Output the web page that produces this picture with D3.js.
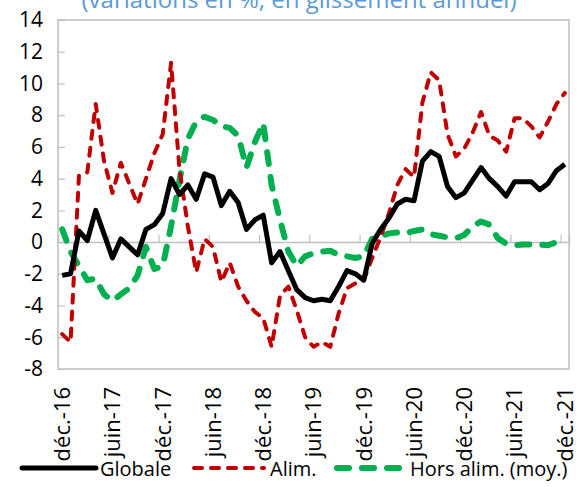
<!DOCTYPE html>
<html><head><meta charset="utf-8">
<script src="https://cdn.jsdelivr.net/npm/d3@7"></script>
<style>
html,body{margin:0;padding:0;background:#fff;}
svg{display:block;}
text{font-family:"Open Sans","Noto Sans",sans-serif;}
</style></head>
<body><svg id="c" width="579" height="487"></svg>
<script>
const monthNames = ["janv.","févr.","mars","avr.","mai","juin","juil.","août","sept.","oct.","nov.","déc."];
const categories = [];
for (let k = 0; k <= 60; k++) { const m = (11 + k) % 12, yr = 16 + Math.floor((11 + k) / 12); categories.push(monthNames[m] + "-" + yr); }
const tickLabels = ["déc.-16","juin-17","déc.-17","juin-18","déc.-18","juin-19","déc.-19","juin-20","déc.-20","juin-21","déc.-21"];
const yTicks = [-8,-6,-4,-2,0,2,4,6,8,10,12,14];
const globale = [-2.1,-2.0,0.7,0.1,2.0,0.5,-1.0,0.2,-0.3,-0.8,
  0.8,1.1,1.8,4.0,3.0,3.6,2.7,4.3,4.1,2.3,
  3.2,2.5,0.8,1.4,1.7,-1.3,-0.6,-1.8,-3.0,-3.5,
  -3.7,-3.6,-3.7,-2.8,-1.8,-2.0,-2.4,-0.1,0.8,1.5,
  2.4,2.7,2.6,5.1,5.7,5.4,3.5,2.8,3.1,3.9,
  4.7,4.0,3.5,2.9,3.8,3.8,3.8,3.3,3.7,4.5,4.9];
const alim = [-5.8,-6.3,4.2,4.4,8.7,5.1,3.1,5.0,3.7,2.4,
  4.0,5.6,6.8,11.3,4.6,1.0,-1.9,0.2,-0.3,-2.5,
  -1.3,-2.8,-3.7,-4.4,-4.8,-6.6,-3.4,-2.8,-4.3,-6.0,
  -6.6,-6.3,-6.6,-4.5,-2.9,-2.6,-2.4,-1.0,0.3,1.8,
  3.6,4.6,4.1,8.8,10.7,10.2,6.8,5.4,5.9,6.9,
  8.2,6.7,6.4,5.7,7.8,7.8,7.3,6.6,7.6,8.7,9.4];
const horsAlim = [0.8,-0.6,-1.5,-2.4,-2.3,-3.3,-3.7,-3.3,-2.9,-2.1,
  -0.3,-1.7,-1.5,1.0,3.9,6.5,7.6,7.9,7.7,7.3,
  7.2,6.7,4.7,6.3,7.5,3.6,1.4,-0.6,-1.5,-0.9,
  -0.7,-0.6,-0.55,-0.8,-0.9,-1.0,-0.9,0.2,0.35,0.55,
  0.6,0.55,0.7,0.8,0.5,0.4,0.3,0.25,0.45,1.0,
  1.3,1.1,0.25,-0.1,-0.2,-0.15,-0.15,-0.15,-0.2,0.0,0.2];
const seriesNames = ["Globale","Alim.","Hors alim. (moy.)"];
const title = "(variations en %, en glissement annuel)";

const svg = d3.select("#c");
const L = 58, R = 569, T = 20, B = 369;
const x = d3.scaleBand().domain(categories).range([L, R]).padding(0);
const xb = d3.scaleLinear().domain([0, categories.length]).range([L, R]);
const y = d3.scaleLinear().domain([-8, 14]).range([B, T]);
const grey = "#bfbfbf";

svg.append("text").attr("x", 299).attr("y", 8).attr("text-anchor", "middle")
  .attr("fill", "#5b9bd5").attr("font-size", 24).text(title);

svg.append("rect").attr("x", L).attr("y", T).attr("width", R - L).attr("height", B - T)
  .attr("fill", "none").attr("stroke", grey).attr("stroke-width", 1.5);

const yAx = svg.append("g").attr("transform", `translate(${L},0)`)
  .call(d3.axisLeft(y).tickValues(yTicks).tickSize(-7).tickPadding(15).tickFormat(d => d));
yAx.select(".domain").remove();
yAx.selectAll("line").attr("stroke", grey).attr("stroke-width", 1.2);
yAx.selectAll("text").attr("font-size", 21).attr("fill", "#000").attr("font-family", '"Open Sans",sans-serif');

const xAx = svg.append("g").attr("transform", `translate(0,${y(0)})`)
  .call(d3.axisBottom(xb).tickValues(d3.range(6, 61, 6)).tickSize(-7).tickFormat(""));
xAx.select(".domain").attr("stroke", grey).attr("stroke-width", 1.5);
xAx.selectAll("line").attr("stroke", grey).attr("stroke-width", 1.2);

const cx = c => x(c) + x.bandwidth() / 2;
svg.append("g").selectAll("text").data(tickLabels).join("text")
  .attr("transform", d => `translate(${cx(d)},387) rotate(-90)`)
  .attr("dy", "0.36em").attr("text-anchor", "end").attr("font-size", 22).attr("fill", "#000")
  .text(d => d);

const line = d3.line().x((d, i) => cx(categories[i])).y(d => y(d));
const styles = [
  {data: horsAlim, color: "#00b050", w: 6, dash: "12,13"},
  {data: alim, color: "#c00000", w: 4, dash: "8,9"},
  {data: globale, color: "#000000", w: 5, dash: null}
];
styles.forEach(s => {
  svg.append("path").datum(s.data).attr("d", line).attr("fill", "none")
    .attr("stroke", s.color).attr("stroke-width", s.w).attr("stroke-linejoin", "round")
    .attr("stroke-linecap", s.dash ? "round" : "butt")
    .attr("stroke-dasharray", s.dash);
});

const leg = [
  {name: seriesNames[0], color: "#000000", w: 5, dash: null, x1: 22, x2: 96, tx: 100},
  {name: seriesNames[1], color: "#c00000", w: 4, dash: "8,9", x1: 194, x2: 264, tx: 270},
  {name: seriesNames[2], color: "#00b050", w: 6, dash: "12,13", x1: 337, x2: 404, tx: 410}
];
const lg = svg.append("g");
leg.forEach(l => {
  lg.append("line").attr("x1", l.x1).attr("x2", l.x2).attr("y1", 468).attr("y2", 468)
    .attr("stroke", l.color).attr("stroke-width", l.w)
    .attr("stroke-linecap", "round").attr("stroke-dasharray", l.dash);
  lg.append("text").attr("x", l.tx).attr("y", 476).attr("font-size", 20).attr("fill", "#000").text(l.name);
});
</script></body></html>
